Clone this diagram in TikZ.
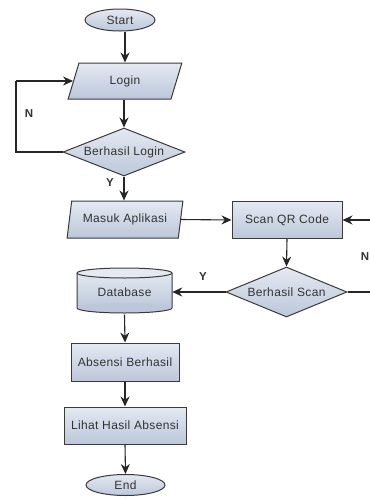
\documentclass[tikz,border=0pt]{standalone}
\usepackage{fontspec}
\setmainfont{Liberation Sans}
\newfontfamily\boxfont[LetterSpace=3]{Liberation Sans}
\usetikzlibrary{shapes.geometric,arrows.meta}
\definecolor{boxtop}{HTML}{E4E9F2}
\definecolor{boxbot}{HTML}{BCC7DA}
\definecolor{edgec}{HTML}{3A3A3A}
\definecolor{txtc}{HTML}{333333}
\tikzset{
  boxtext/.style={font=\boxfont\fontsize{12}{14}\selectfont, text=txtc},
  base/.style={draw=edgec, line width=1pt, top color=boxtop, bottom color=boxbot, boxtext, inner sep=0pt},
  term/.style={base, ellipse},
  io/.style={base, trapezium, trapezium left angle=72, trapezium right angle=108, trapezium stretches=true},
  proc/.style={base, rectangle},
  dec/.style={base, diamond, aspect=2.5, shape aspect=2.5},
  conn/.style={draw=black!85, line width=1.1pt, -{Stealth[length=10pt,width=9pt]}},
  line/.style={draw=black!85, line width=1.1pt},
  lab/.style={font=\fontsize{11.5}{13}\selectfont\bfseries, text=black!80}
}
\begin{document}
\begin{tikzpicture}[x=1pt,y=-1pt]
\useasboundingbox (0,0) rectangle (370,499);
\fill[white] (0,0) rectangle (370,499);
% nodes
\node[term, minimum width=70, minimum height=22] (start) at (120,20) {Start};
\node[io, minimum width=114, minimum height=36] (login) at (125,81) {Login};
\node[dec, minimum width=122, minimum height=48] (cek1) at (124,152) {Berhasil Login};
\node[io, minimum width=116, minimum height=37] (masuk) at (125,219.5) {Masuk Aplikasi};
\node[proc, minimum width=110, minimum height=37] (scan) at (287,220) {Scan QR Code};
\node[dec, minimum width=121, minimum height=50] (cek2) at (286.5,292) {Berhasil Scan};
% database cylinder drawn by hand
\fill[top color=boxtop, bottom color=boxbot] (77,273) rectangle (172,308);
\fill[boxbot] (124.5,308) ellipse [x radius=47.5, y radius=5];
\draw[edgec, line width=1pt] (77,273) -- (77,308) arc[start angle=180, end angle=0, x radius=47.5, y radius=5] -- (172,273);
\filldraw[draw=edgec, line width=1pt, fill=boxtop] (124.5,273) ellipse [x radius=47.5, y radius=5];
\node[boxtext, minimum width=95, minimum height=45, inner sep=0pt] (db) at (124.5,292) {Database};
\node[proc, minimum width=108, minimum height=38] (absen) at (125,362) {Absensi Berhasil};
\node[proc, minimum width=122, minimum height=37] (lihat) at (125,425.5) {Lihat Hasil Absensi};
\node[term, minimum width=79, minimum height=21] (end) at (125.5,485) {End};
% helper coordinates
\coordinate (nl1) at (16,152);
\coordinate (nl2) at (16,81);
\coordinate (nr1) at (375,292);
\coordinate (nr2) at (375,220);
% connectors
\draw[conn] (start.south -| login.north) -- (login.north);
\draw[line] (cek1.west) -- (nl1) -- (nl2);
\draw[conn] (nl2) -- (login.west);
\draw[conn] (login.south -| cek1.north) -- (cek1.north);
\draw[conn] (cek1.south) -- (cek1.south |- masuk.north);
\draw[conn] (masuk.east) -- (scan.west);
\draw[conn] (scan.south) -- (cek2.north);
\draw[line] (cek2.east) -- (nr1) -- (nr2);
\draw[conn] (nr2) -- (scan.east);
\draw[conn] (cek2.west) -- (db.east);
\draw[conn] (db.south) -- (absen.north);
\draw[conn] (absen.south) -- (lihat.north);
\draw[conn] (lihat.south) -- (end.north);
% labels
\node[lab] (ln1) at (29,114) {N};
\node[lab] (ly1) at (110,183) {Y};
\node[lab] (ly2) at (203,277) {Y};
\node[lab] (ln2) at (365,257) {N};
\end{tikzpicture}
\end{document}
